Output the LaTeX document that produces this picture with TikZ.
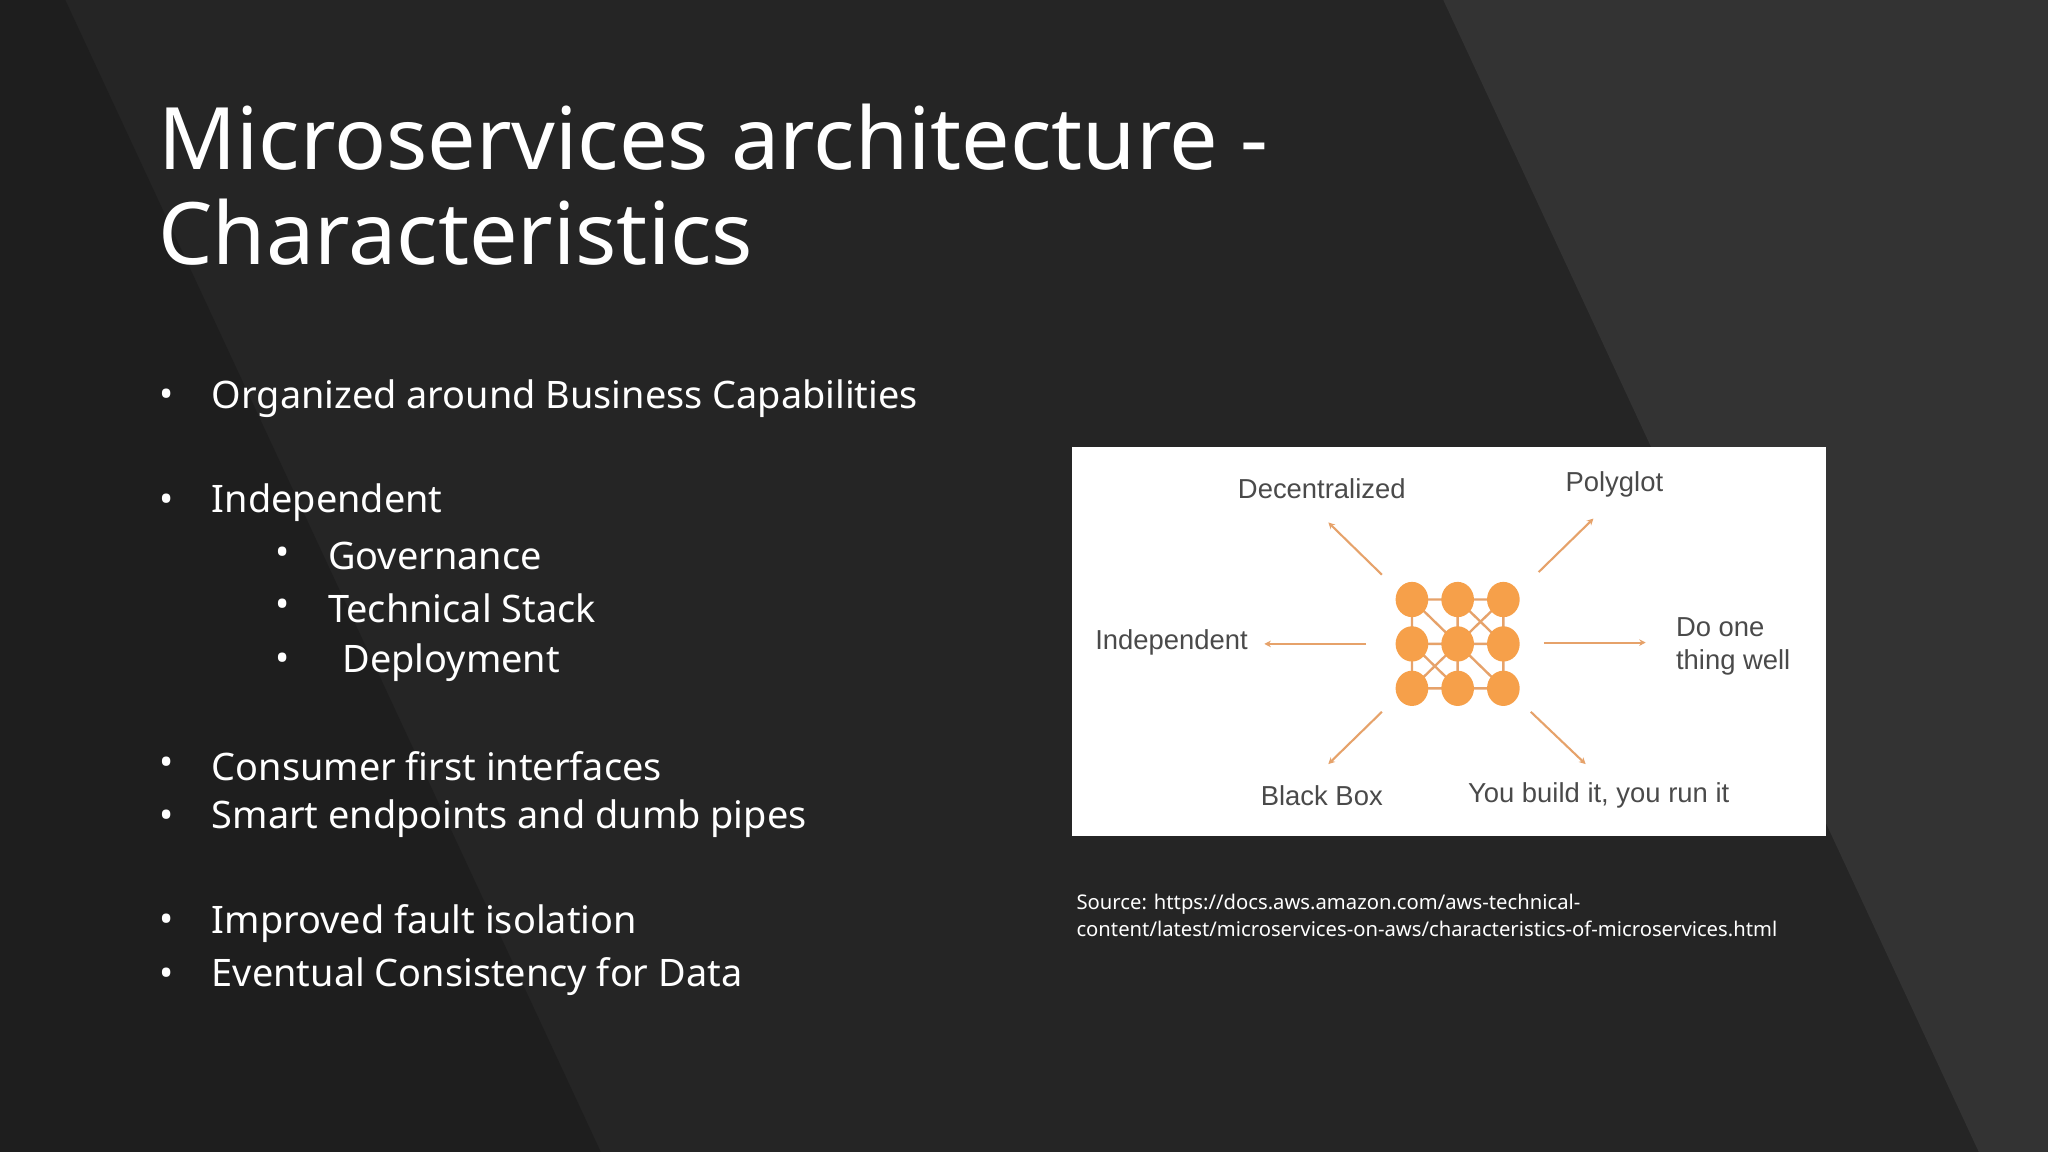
\documentclass[tikz,border=0pt]{standalone}
\usepackage{fontspec}
\setmainfont{Noto Sans}
\newfontfamily\arialf{Liberation Sans}
\usetikzlibrary{arrows.meta}
\definecolor{bgA}{HTML}{1E1E1E}
\definecolor{bgB}{HTML}{252525}
\definecolor{bgC}{HTML}{333333}
\definecolor{org}{HTML}{F6A04A}
\definecolor{orgline}{HTML}{E6A26A}
\definecolor{lbl}{HTML}{4A4A4A}
\tikzset{
 bul/.style={anchor=west,text=white,font=\fontsize{29}{34}\selectfont,inner sep=0},
 dot/.style={ellipse,fill=org,minimum width=25pt,minimum height=27pt,inner sep=0},
 arr/.style={draw=orgline,line width=1.6pt,-{Stealth[length=5pt,width=5pt]}},
 lab/.style={text=lbl,font=\arialf\fontsize{21}{25}\selectfont,inner sep=0},
 grid/.style={draw=orgline,line width=1.8pt}
}
\usetikzlibrary{shapes.geometric}
\begin{document}
\begin{tikzpicture}[x=1pt,y=-1pt]
\useasboundingbox (0,0) rectangle (1568,882);
\fill[bgB] (0,0) rectangle (1568,882);
\fill[bgA] (0,0) -- (50,0) -- (460,882) -- (0,882) -- cycle;
\fill[bgC] (1105,0) -- (1568,0) -- (1568,882) -- (1515,882) -- cycle;
\node[anchor=west,text=white,font=\bfseries\fontsize{66}{74}\selectfont,inner sep=0] (t1) at (121,105) {Microservices architecture -};
\node[anchor=west,text=white,font=\bfseries\fontsize{66}{74}\selectfont,inner sep=0] (t2) at (121,178) {Characteristics};
% bullets
\foreach \n/\y/\t in {b1/305/Organized around Business Capabilities, b2/385/Independent, b3/587/Consumer first interfaces, b4/627/Smart endpoints and dumb pipes, b5/707/Improved fault isolation, b6/748/Eventual Consistency for Data}{
 \node[bul] (\n d) at (122,\y) {•};
 \node[bul] (\n) at (162,\y) {\t};
}
\foreach \n/\y/\x/\t in {s1/426/251/Governance, s2/466/251/Technical Stack, s3/507/262/Deployment}{
 \node[bul] (\n d) at (211,\y) {•};
 \node[bul] (\n) at (\x,\y) {\t};
}
% diagram
\fill[white] (821,342) rectangle (1398,640);
\foreach \i/\x in {1/1081,2/1116,3/1151}{
 \foreach \j/\y in {1/459,2/493,3/527}{
  \coordinate (g\i\j) at (\x,\y);
 }
}
\draw[grid] (g11)--(g31) (g12)--(g32) (g13)--(g33) (g11)--(g13) (g21)--(g23) (g31)--(g33)
 (g11)--(g22) (g21)--(g32) (g31)--(g22) (g22)--(g13) (g22)--(g33) (g12)--(g23);
\foreach \i in {1,2,3}{\foreach \j in {1,2,3}{\node[dot] (d\i\j) at (g\i\j) {};}}
\coordinate (aDs) at (1058,440); \coordinate (aDe) at (1017,400);
\coordinate (aPs) at (1178,438); \coordinate (aPe) at (1220,397);
\coordinate (aIs) at (1046,493); \coordinate (aIe) at (968,493);
\coordinate (aOs) at (1182,492); \coordinate (aOe) at (1260,492);
\coordinate (aBs) at (1058,545); \coordinate (aBe) at (1017,585);
\coordinate (aYs) at (1172,545); \coordinate (aYe) at (1214,585);
\foreach \a in {D,P,I,O,B,Y}{\draw[arr] (a\a s) -- (a\a e);}
\node[lab] (lD) at (1012,374) {Decentralized};
\node[lab] (lP) at (1236,371) {Polyglot};
\node[lab] (lI) at (897,492) {Independent};
\node[lab,anchor=west,align=left] (lO) at (1283,495) {Do one\\thing well};
\node[lab] (lB) at (1012,609) {Black Box};
\node[lab] (lY) at (1224,609) {You build it, you run it};
\node[anchor=north west,align=left,text=white,font=\fontsize{15.5}{21}\selectfont,inner sep=0] (src) at (824,684) {Source: https://docs.aws.amazon.com/aws-technical-\\content/latest/microservices-on-aws/characteristics-of-microservices.html};
\end{tikzpicture}
\end{document}
